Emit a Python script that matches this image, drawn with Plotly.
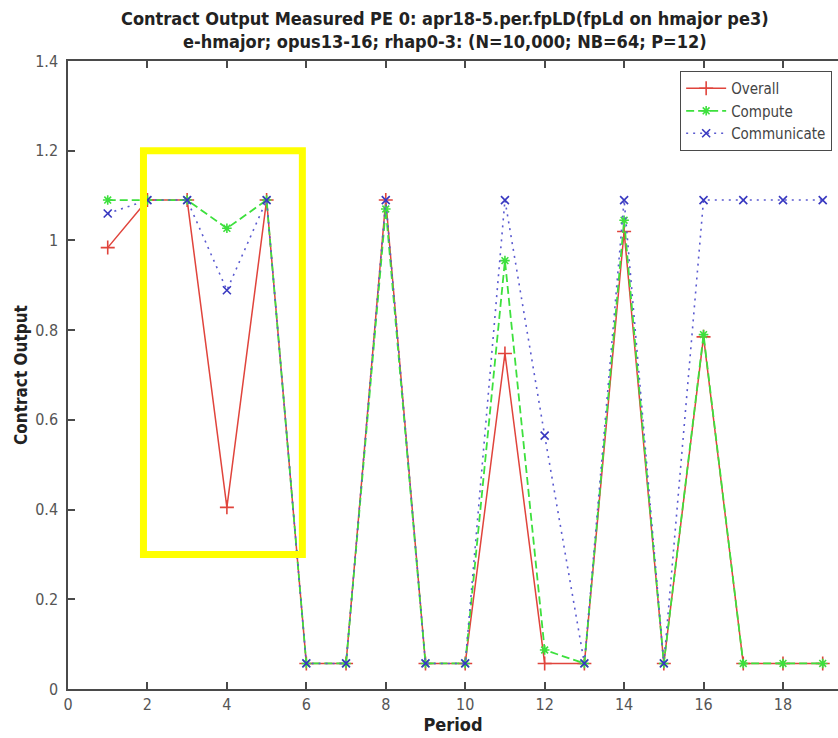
import plotly.graph_objects as go

# Measured contract output per period for PE 0
periods = list(range(1, 20))
overall = [0.984, 1.09, 1.09, 0.405, 1.09, 0.057, 0.057, 1.09, 0.057, 0.057,
           0.748, 0.057, 0.057, 1.02, 0.057, 0.785, 0.057, 0.057, 0.057]
compute = [1.09, 1.09, 1.09, 1.027, 1.09, 0.057, 0.057, 1.07, 0.057, 0.057,
           0.955, 0.087, 0.057, 1.045, 0.057, 0.79, 0.057, 0.057, 0.057]
communicate = [1.06, 1.09, 1.09, 0.889, 1.09, 0.057, 0.057, 1.09, 0.057, 0.057,
               1.09, 0.565, 0.057, 1.09, 0.057, 1.09, 1.09, 1.09, 1.09]

x_ticks = list(range(0, 20, 2))
y_ticks = [0, 0.2, 0.4, 0.6, 0.8, 1.0, 1.2, 1.4]
y_tick_text = ["0", "0.2", "0.4", "0.6", "0.8", "1", "1.2", "1.4"]

# highlighted region (period / output coordinates)
box_x = [1.9, 5.9]
box_y = [0.3, 1.2]

title_lines = ["Contract Output Measured PE 0: apr18-5.per.fpLD(fpLd on hmajor pe3)",
               "e-hmajor; opus13-16; rhap0-3: (N=10,000; NB=64; P=12)"]

FONT = "DejaVu Sans Condensed, Liberation Sans, sans-serif"
AXIS_COLOR = "#4a4a4a"

fig = go.Figure()
fig.add_trace(go.Scatter(
    x=periods, y=overall, name="Overall", mode="lines+markers",
    line=dict(color="#e0443c", width=1.5, dash="solid"),
    marker=dict(symbol="cross-thin", size=10, line=dict(color="#e0443c", width=1.6)),
))
fig.add_trace(go.Scatter(
    x=periods, y=compute, name="Compute", mode="lines+markers",
    line=dict(color="#3de03d", width=1.8, dash="8px,4px"),
    marker=dict(symbol="asterisk", size=8, line=dict(color="#3de03d", width=1.6)),
))
fig.add_trace(go.Scatter(
    x=periods, y=communicate, name="Communicate", mode="lines+markers",
    line=dict(color="#5a5ad0", width=1.6, dash="2px,5px"),
    marker=dict(symbol="x-thin", size=8, line=dict(color="#3838c0", width=1.6)),
))

fig.add_shape(type="rect", xref="x", yref="y",
              x0=box_x[0], x1=box_x[1], y0=box_y[0], y1=box_y[1],
              line=dict(color="#ffff00", width=7), layer="above")

# two-line title, one annotation per line
for line_text, y_px in zip(title_lines, [18, 41]):
    fig.add_annotation(
        text=line_text, xref="paper", yref="paper",
        x=0.49, y=1 + (61 - y_px) / 628, xanchor="center", yanchor="middle",
        showarrow=False,
        font=dict(family=FONT, size=18, color="#222222", weight="bold"),
    )

fig.update_layout(
    width=838, height=738,
    margin=dict(l=68, r=0, t=61, b=49),
    paper_bgcolor="white", plot_bgcolor="white",
    font=dict(family=FONT, color="#333333"),
    showlegend=True,
    legend=dict(
        x=0.795, y=0.984, xanchor="left", yanchor="top",
        bgcolor="white", bordercolor=AXIS_COLOR, borderwidth=1,
        font=dict(family=FONT, size=15, color="#444444"),
        tracegroupgap=0, itemwidth=40,
    ),
)

fig.update_xaxes(
    range=[0, 19.385], tickvals=x_ticks, ticks="inside", ticklen=7,
    tickcolor=AXIS_COLOR, tickwidth=1.5, ticklabelstandoff=0,
    showline=True, linecolor=AXIS_COLOR, linewidth=1.5, mirror="ticks",
    showgrid=False, zeroline=False,
    tickfont=dict(family=FONT, size=16, color="#555555"),
    title=dict(text="<b>Period</b>", font=dict(family=FONT, size=18, color="#222222"), standoff=0),
)
fig.update_yaxes(
    range=[0, 1.4], tickvals=y_ticks, ticktext=y_tick_text, ticks="inside", ticklen=7,
    tickcolor=AXIS_COLOR, tickwidth=1.5, ticklabelstandoff=5,
    showline=True, linecolor=AXIS_COLOR, linewidth=1.5, mirror=False,
    showgrid=False, zeroline=False,
    tickfont=dict(family=FONT, size=16, color="#555555"),
    title=dict(text="<b>Contract Output</b>", font=dict(family=FONT, size=17, color="#222222"), standoff=3),
)

fig.write_html("out.html")
